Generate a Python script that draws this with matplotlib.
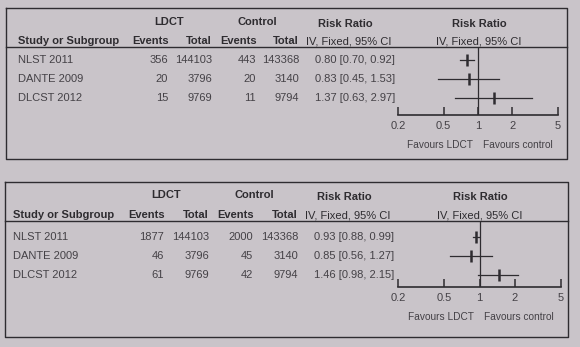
import matplotlib
matplotlib.use("Agg")
import matplotlib.pyplot as plt
from matplotlib.ticker import FixedLocator, NullLocator

plt.rcParams['font.family'] = ['Liberation Sans', 'DejaVu Sans']

studies = ["NLST 2011", "DANTE 2009", "DLCST 2012"]
ticks = [0.2, 0.5, 1, 2, 5]
tick_labels = ["0.2", "0.5", "1", "2", "5"]

# upper table
ldct_events_a = [356, 20, 15]
ldct_total_a = [144103, 3796, 9769]
ctrl_events_a = [443, 20, 11]
ctrl_total_a = [143368, 3140, 9794]
rr_a = [0.80, 0.83, 1.37]
lo_a = [0.70, 0.45, 0.63]
hi_a = [0.92, 1.53, 2.97]

# lower table
ldct_events_b = [1877, 46, 61]
ldct_total_b = [144103, 3796, 9769]
ctrl_events_b = [2000, 45, 42]
ctrl_total_b = [143368, 3140, 9794]
rr_b = [0.93, 0.85, 1.46]
lo_b = [0.88, 0.56, 0.98]
hi_b = [0.99, 1.27, 2.15]

W, H = 580, 347
BG = '#c9c4c9'
INK = '#2e2c30'
GREY = '#444146'

fig = plt.figure(figsize=(W / 100, H / 100), dpi=100, facecolor=BG)
page = fig.add_axes([0, 0, 1, 1])
page.set_xlim(0, W)
page.set_ylim(H, 0)
page.axis('off')


def panel(top, bottom, left, right, head_y, line_y, row_y, axis_y, x0, x1,
          one_x, cols, events, totals, cevents, ctotals, rr, lo, hi):
    # frame around the table
    page.plot([left, right, right, left, left], [top, top, bottom, bottom, top],
              color=INK, lw=1.0)
    page.plot([left, right], [line_y, line_y], color=INK, lw=1.0)

    hb = dict(fontsize=8, fontweight='bold', color=INK, va='center')
    page.text(cols['ldct'], head_y, "LDCT", ha='center', **hb)
    page.text(cols['ctrl'], head_y, "Control", ha='center', **hb)
    page.text(cols['rr'], head_y + 2, "Risk Ratio", ha='center', **hb)
    page.text(one_x, head_y + 2, "Risk Ratio", ha='center', **hb)
    y2 = line_y - 6
    page.text(cols['name'], y2, "Study or Subgroup", ha='left', **hb)
    page.text(cols['ev1'] - 17, y2, "Events", ha='center', **hb)
    page.text(cols['tot1'], y2, "Total", ha='right', **hb)
    page.text(cols['ev2'] - 17, y2, "Events", ha='center', **hb)
    page.text(cols['tot2'], y2, "Total", ha='right', **hb)
    hn = dict(hb, fontweight='normal')
    page.text(cols['rr'] + 4, y2, "IV, Fixed, 95% CI", ha='center', **hn)
    page.text(one_x, y2, "IV, Fixed, 95% CI", ha='center', **hn)

    rb = dict(fontsize=8, color=GREY, va='center')
    for i, y in enumerate(row_y):
        page.text(cols['name'], y, studies[i], ha='left', **rb)
        page.text(cols['ev1'], y, str(events[i]), ha='right', **rb)
        page.text(cols['tot1'], y, str(totals[i]), ha='right', **rb)
        page.text(cols['ev2'], y, str(cevents[i]), ha='right', **rb)
        page.text(cols['tot2'], y, str(ctotals[i]), ha='right', **rb)
        page.text(cols['rr'] - 30, y,
                  f"{rr[i]:.2f} [{lo[i]:.2f}, {hi[i]:.2f}]", ha='left', **rb)

    # forest plot on a log axis
    ax_top = line_y
    ax = fig.add_axes([x0 / W, 1 - axis_y / H, (x1 - x0) / W, (axis_y - ax_top) / H])
    ax.patch.set_alpha(0)
    ax.set_xscale('log')
    ax.set_xlim(0.2, 5)
    step = row_y[1] - row_y[0]
    ax.set_ylim((axis_y - row_y[0]) / step, (ax_top - row_y[0]) / step)
    for s in ['top', 'left', 'right']:
        ax.spines[s].set_visible(False)
    ax.spines['bottom'].set_color(INK)
    ax.spines['bottom'].set_linewidth(1.2)
    ax.xaxis.set_major_locator(FixedLocator(ticks))
    ax.xaxis.set_minor_locator(NullLocator())
    ax.set_xticklabels(tick_labels)
    ax.tick_params(axis='x', direction='in', length=6, width=1.1, color=INK,
                   labelsize=8, labelcolor=GREY, pad=4)
    ax.set_yticks([])
    ax.axvline(1, color=INK, lw=0.9)
    for i in range(len(rr)):
        ax.plot([lo[i], hi[i]], [i, i], color=INK, lw=0.9)
        ax.plot([rr[i]], [i], marker='|', ms=9, mew=1.8, color=INK)

    # direction captions under the axis
    page.text(one_x - 39, axis_y + 30, "Favours LDCT", ha='center',
              va='center', fontsize=7.3, color=GREY)
    page.text(one_x + 39, axis_y + 30, "Favours control", ha='center',
              va='center', fontsize=7.3, color=GREY)


panel(top=8, bottom=159, left=6, right=567, head_y=22, line_y=47,
      row_y=[60, 79, 98], axis_y=115, x0=398, x1=558, one_x=479,
      cols=dict(name=18, ldct=169, ctrl=257, rr=345, ev1=168, tot1=212,
                ev2=256, tot2=299),
      events=ldct_events_a, totals=ldct_total_a, cevents=ctrl_events_a,
      ctotals=ctrl_total_a, rr=rr_a, lo=lo_a, hi=hi_a)

panel(top=182, bottom=337, left=5, right=568, head_y=195, line_y=221,
      row_y=[237, 256, 275], axis_y=287, x0=398, x1=561, one_x=480,
      cols=dict(name=13, ldct=166, ctrl=254, rr=344, ev1=164, tot1=209,
                ev2=253, tot2=298),
      events=ldct_events_b, totals=ldct_total_b, cevents=ctrl_events_b,
      ctotals=ctrl_total_b, rr=rr_b, lo=lo_b, hi=hi_b)

fig.savefig("out.png", dpi=100, facecolor=BG)
